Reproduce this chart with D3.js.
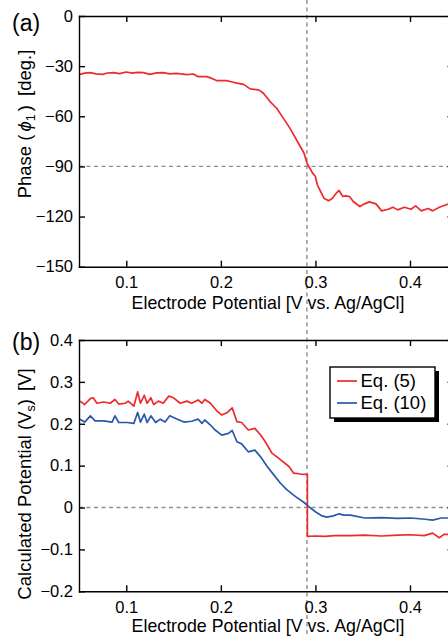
<!DOCTYPE html>
<html>
<head>
<meta charset="utf-8">
<script src="https://cdn.jsdelivr.net/npm/d3@7"></script>
<style>
  html, body { margin: 0; padding: 0; background: #fff; }
  svg { display: block; }
  text { font-family: "Liberation Sans", Arial, Helvetica, sans-serif; fill: #000; }
</style>
</head>
<body>
<svg id="fig" width="448" height="636"></svg>
<script>
// ---- data -------------------------------------------------------------
// shared electrode-potential ticks
const potentialTicks = [0.1, 0.2, 0.3, 0.4];
const potentialTickLabels = ["0.1", "0.2", "0.3", "0.4"];

// (a) phase of the first harmonic
const phaseTicks = [0, -30, -60, -90, -120, -150];
const phaseTickLabels = ["0", "\u221230", "\u221260", "\u221290", "\u2212120", "\u2212150"];
const potentialA = [0.051, 0.056, 0.062, 0.068, 0.075, 0.080, 0.086, 0.093, 0.100, 0.106, 0.112, 0.118,
  0.125, 0.132, 0.139, 0.146, 0.153, 0.160, 0.164, 0.171, 0.176, 0.185, 0.190, 0.196, 0.206, 0.212,
  0.217, 0.224, 0.231, 0.240, 0.245, 0.252, 0.259, 0.266, 0.273, 0.281, 0.288, 0.291, 0.295, 0.297,
  0.300, 0.302, 0.309, 0.314, 0.318, 0.322, 0.325, 0.329, 0.332, 0.336, 0.340, 0.347, 0.352, 0.357,
  0.364, 0.370, 0.377, 0.382, 0.387, 0.394, 0.401, 0.406, 0.412, 0.419, 0.424, 0.431, 0.441, 0.446];
const phaseA = [-34.9, -34.2, -33.9, -34.6, -34.9, -34.1, -33.9, -34.5, -33.5, -34.2, -33.7, -33.9,
  -34.9, -34.0, -33.9, -34.6, -34.3, -34.8, -35.1, -34.7, -36.3, -36.3, -37.2, -38.7, -38.7, -39.5,
  -40.2, -40.9, -43.6, -44.2, -46.2, -51.2, -55.2, -61.1, -67.1, -75.1, -82.1, -88.0, -92.0, -94.0,
  -96.0, -101.0, -109.0, -110.5, -109.0, -106.0, -104.4, -108.0, -107.6, -108.0, -111.0, -114.0, -112.4, -111.2,
  -112.4, -116.6, -115.6, -114.4, -116.0, -114.4, -115.6, -113.6, -116.6, -115.2, -116.6, -114.4, -112.4, -112.8];

// (b) calculated surface potential
const vsTicks = [0.4, 0.3, 0.2, 0.1, 0, -0.1, -0.2];
const vsTickLabels = ["0.4", "0.3", "0.2", "0.1", "0", "\u22120.1", "\u22120.2"];
const seriesNames = ["Eq. (5)", "Eq. (10)"];
const potentialEq5 = [0.051, 0.056, 0.062, 0.065, 0.069, 0.076, 0.083, 0.088, 0.092, 0.099, 0.102, 0.108,
  0.112, 0.115, 0.119, 0.122, 0.126, 0.129, 0.134, 0.139, 0.145, 0.150, 0.157, 0.164, 0.169, 0.176,
  0.180, 0.183, 0.189, 0.196, 0.201, 0.207, 0.212, 0.217, 0.222, 0.229, 0.236, 0.242, 0.247, 0.254,
  0.261, 0.272, 0.277, 0.284, 0.2915, 0.2915, 0.300, 0.310, 0.320, 0.337, 0.352, 0.370, 0.387, 0.401,
  0.415, 0.424, 0.431, 0.436, 0.441, 0.446];
const vsEq5 = [0.254, 0.246, 0.260, 0.262, 0.249, 0.252, 0.249, 0.258, 0.247, 0.249, 0.254, 0.242,
  0.276, 0.249, 0.268, 0.249, 0.262, 0.246, 0.254, 0.249, 0.266, 0.262, 0.249, 0.254, 0.249, 0.257,
  0.249, 0.258, 0.249, 0.230, 0.221, 0.227, 0.238, 0.205, 0.203, 0.185, 0.189, 0.173, 0.157, 0.130,
  0.118, 0.098, 0.082, 0.080, 0.079, -0.069, -0.068, -0.069, -0.067, -0.067, -0.066, -0.068, -0.066, -0.065,
  -0.067, -0.061, -0.072, -0.064, -0.064, -0.066];
const potentialEq10 = [0.051, 0.056, 0.062, 0.067, 0.076, 0.085, 0.088, 0.092, 0.101, 0.108, 0.112, 0.115,
  0.119, 0.122, 0.126, 0.131, 0.136, 0.141, 0.146, 0.154, 0.161, 0.169, 0.176, 0.180, 0.183, 0.189,
  0.194, 0.201, 0.208, 0.212, 0.217, 0.222, 0.229, 0.236, 0.242, 0.249, 0.256, 0.263, 0.270, 0.279,
  0.288, 0.293, 0.300, 0.307, 0.312, 0.319, 0.325, 0.330, 0.337, 0.352, 0.370, 0.387, 0.401, 0.416,
  0.424, 0.433, 0.446];
const vsEq10 = [0.211, 0.204, 0.219, 0.207, 0.207, 0.204, 0.219, 0.203, 0.203, 0.201, 0.227, 0.204,
  0.223, 0.203, 0.219, 0.203, 0.211, 0.204, 0.219, 0.211, 0.204, 0.206, 0.211, 0.201, 0.209, 0.197,
  0.185, 0.173, 0.177, 0.184, 0.157, 0.152, 0.133, 0.137, 0.121, 0.098, 0.078, 0.058, 0.042, 0.026,
  0.012, 0.002, -0.010, -0.020, -0.023, -0.020, -0.015, -0.018, -0.018, -0.025, -0.024, -0.026, -0.025, -0.028,
  -0.030, -0.025, -0.025];

// reference levels
const transitionPotential = 0.291;
const phaseReference = -90;
const vsReference = 0;

// ---- layout ------------------------------------------------------------
const W = 448, H = 636;
const left = 79, right = 453.5;
const panelA = { top: 16, bottom: 266.7, titleY: 309.3 };
const panelB = { top: 340, bottom: 591.3, titleY: 632.2 };
const RED = "#ee2a2c", BLUE = "#2a58aa", GREY = "#8e8e8e";
const TICK_FONT = 16.5, LABEL_FONT = 18.5, XTITLE_FONT = 17.8;

const svg = d3.select("#fig");

const x = d3.scaleLinear().domain([0.05, 0.446]).range([left, right]);
const yA = d3.scaleLinear().domain([-150, 0]).range([panelA.bottom, panelA.top]);
const yB = d3.scaleLinear().domain([-0.2, 0.4]).range([panelB.bottom, panelB.top]);

function styleAxis(g) {
  g.selectAll("path.domain").attr("stroke", "#000").attr("stroke-width", 1.4);
  g.selectAll(".tick line").attr("stroke", "#000").attr("stroke-width", 1.4);
  g.selectAll(".tick text").attr("font-size", TICK_FONT)
    .attr("font-family", "'Liberation Sans', Arial, sans-serif").attr("fill", "#000");
}

function frame(y, p, yTicks, yLabels) {
  const g = svg.append("g");
  g.append("g").attr("transform", `translate(0,${p.bottom})`)
    .call(d3.axisBottom(x).tickValues(potentialTicks)
      .tickFormat((d, i) => potentialTickLabels[i])
      .tickSizeInner(-6).tickSizeOuter(0).tickPadding(9.5))
    .call(styleAxis);
  g.append("g").attr("transform", `translate(0,${p.top})`)
    .call(d3.axisTop(x).tickValues(potentialTicks).tickFormat("")
      .tickSizeInner(-6).tickSizeOuter(0))
    .call(styleAxis);
  g.append("g").attr("transform", `translate(${left},0)`)
    .call(d3.axisLeft(y).tickValues(yTicks)
      .tickFormat((d, i) => yLabels[i])
      .tickSizeInner(-6).tickSizeOuter(0).tickPadding(6))
    .call(styleAxis);
  g.append("g").attr("transform", `translate(${right},0)`)
    .call(d3.axisRight(y).tickValues(yTicks).tickFormat("")
      .tickSizeInner(-6).tickSizeOuter(0))
    .call(styleAxis);
  g.selectAll("path.domain").attr("stroke-linecap", "square");
  return g;
}

function dashedH(y, value) {
  svg.append("line")
    .attr("x1", left).attr("x2", right)
    .attr("y1", y(value)).attr("y2", y(value))
    .attr("stroke", GREY).attr("stroke-width", 1.4).attr("stroke-dasharray", "4,3.5");
}

function curve(xs, ys, y, color) {
  const line = d3.line().x(d => x(d[0])).y(d => y(d[1]));
  svg.append("path")
    .datum(xs.map((v, i) => [v, ys[i]]))
    .attr("d", line)
    .attr("fill", "none")
    .attr("stroke", color)
    .attr("stroke-width", 1.7)
    .attr("stroke-linejoin", "round");
}

// reference lines
dashedH(yA, phaseReference);
dashedH(yB, vsReference);
svg.append("line")
  .attr("x1", x(transitionPotential)).attr("x2", x(transitionPotential))
  .attr("y1", 0).attr("y2", H)
  .attr("stroke", GREY).attr("stroke-width", 1.4).attr("stroke-dasharray", "4,3.5");

// data curves
curve(potentialA, phaseA, yA, RED);
curve(potentialEq5, vsEq5, yB, RED);
curve(potentialEq10, vsEq10, yB, BLUE);

// axes frames
frame(yA, panelA, phaseTicks, phaseTickLabels);
frame(yB, panelB, vsTicks, vsTickLabels);

// x-axis titles
const xTitle = "Electrode Potential [V vs. Ag/AgCl]";
[panelA, panelB].forEach(p => {
  svg.append("text")
    .attr("x", 268).attr("y", p.titleY)
    .attr("text-anchor", "middle").attr("font-size", XTITLE_FONT)
    .text(xTitle);
});

// y-axis title (a)
const ta = svg.append("text")
  .attr("transform", "translate(30.5,124) rotate(-90)")
  .attr("text-anchor", "middle").attr("font-size", LABEL_FONT);
ta.append("tspan").text("Phase (");
ta.append("tspan").attr("dx", 3).attr("font-style", "italic").text("\u03d5");
ta.append("tspan").attr("font-size", 12.5).attr("dy", 4).text("1");
ta.append("tspan").attr("dy", -4).attr("dx", 3).text(")");
ta.append("tspan").attr("dx", 4).text(" [deg.]");

// y-axis title (b)
const tb = svg.append("text")
  .attr("transform", "translate(31,484) rotate(-90)")
  .attr("text-anchor", "middle").attr("font-size", LABEL_FONT);
tb.append("tspan").text("Calculated Potential (V");
tb.append("tspan").attr("font-size", 12.5).attr("dy", 4).text("s");
tb.append("tspan").attr("dy", -4).text(")");
tb.append("tspan").attr("dx", 8).text("[V]");

// panel tags
svg.append("text").attr("x", 12).attr("y", 31).attr("font-size", 23).text("(a)");
svg.append("text").attr("x", 12).attr("y", 349.5).attr("font-size", 23).text("(b)");

// legend
const lg = svg.append("g").attr("transform", "translate(330,367)");
const lw = 105, lh = 51;
lg.append("rect").attr("x", 4).attr("y", 4).attr("width", lw).attr("height", lh).attr("fill", "#000");
lg.append("rect").attr("width", lw).attr("height", lh).attr("fill", "#fff")
  .attr("stroke", "#000").attr("stroke-width", 1.4);
[RED, BLUE].forEach((c, i) => {
  const yy = 14 + i * 22;
  lg.append("line").attr("x1", 7).attr("x2", 27).attr("y1", yy).attr("y2", yy)
    .attr("stroke", c).attr("stroke-width", 1.7);
  lg.append("text").attr("x", 30.5).attr("y", yy).attr("dy", "0.35em")
    .attr("font-size", LABEL_FONT).text(seriesNames[i]);
});
</script>
</body>
</html>
